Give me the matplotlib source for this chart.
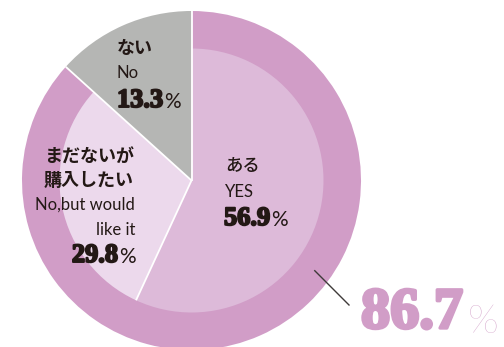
import numpy as np
import matplotlib
matplotlib.use('agg')
import matplotlib.pyplot as plt
import matplotlib.patheffects as pe

# answers, inner pie (percent)
labels_ja = ['ない', 'まだないが\n購入したい', 'ある']
labels_en = ['No', 'No,but would\nlike it', 'YES']
values = [13.3, 29.8, 56.9]
owned_total = 86.7   # outer ring: YES + want to buy

gray = '#b5b6b4'
ring = '#d19dc7'
inner_cols = [gray, '#ecd9ec', '#ddbad9']
ink = '#231815'

W, H = 504, 347
fig = plt.figure(figsize=(W / 100, H / 100), dpi=100)
ax = fig.add_axes([0, 0, 1, 1])

cx, cy = 191.5, H - 180.5
R, r = 169.5, 132

# outer: gray wedge full radius + pink ring
ax.pie([100 - owned_total, owned_total], colors=[gray, ring], radius=R,
       center=(cx, cy), startangle=90, frame=True,
       wedgeprops=dict(linewidth=0))
ax.pie(values, colors=[(0, 0, 0, 0)] + inner_cols[1:], radius=r,
       center=(cx, cy), startangle=90, frame=True,
       wedgeprops=dict(linewidth=0))
ax.set_xlim(0, W)
ax.set_ylim(0, H)
ax.set_aspect('equal')
ax.axis('off')

# white separators
bounds = 90 + 360 * np.cumsum([0] + values[:-1]) / 100
for i, a in enumerate(bounds):
    rad = np.deg2rad(a)
    rr = r if i == 2 else R
    ax.plot([cx, cx + rr * np.cos(rad)], [cy, cy + rr * np.sin(rad)],
            color='white', lw=1.3, solid_capstyle='butt')

jp = 'Noto Sans CJK JP'
en = 'Lato'
num = 'Liberation Serif'
fat = [pe.withStroke(linewidth=1.4, foreground=ink)]


def pct(x, y, val, ha='left', size=19, psize=15, color=ink, stroke=fat,
        pweight='normal', gap=1.0):
    if ha == 'left':
        t = ax.text(x, H - y, f'{val:.1f}', family=num, weight='bold',
                    size=size, color=color, ha='left', va='baseline',
                    path_effects=stroke)
        ax.annotate('%', xy=(1, 0), xycoords=t, xytext=(gap, 0),
                    textcoords='offset points', family=en, weight=pweight,
                    size=psize, color=color, ha='left', va='bottom')
    else:
        p = ax.text(x, H - y, '%', family=en, weight=pweight, size=psize,
                    color=color, ha='right', va='baseline')
        ax.annotate(f'{val:.1f}', xy=(0, 0), xycoords=p, xytext=(-gap, 0),
                    textcoords='offset points', family=num, weight='bold',
                    size=size, color=color, ha='right', va='bottom',
                    path_effects=stroke)


# ない / No
ax.text(117, H - 48, labels_ja[0], family=jp, weight='bold', size=13,
        color=ink, ha='left', va='center')
ax.text(117, H - 78, labels_en[0], family=en, size=12, color=ink,
        ha='left', va='baseline')
pct(117, 107, values[0])

# まだないが購入したい
ja1, ja2 = labels_ja[1].split('\n')
ax.text(134, H - 157, ja1, family=jp, weight='bold', size=13, color=ink,
        ha='right', va='center')
ax.text(134, H - 180, ja2, family=jp, weight='bold', size=13, color=ink,
        ha='right', va='center')
en1, en2 = labels_en[1].split('\n')
ax.text(135, H - 210, en1, family=en, size=12, color=ink, ha='right',
        va='baseline')
ax.text(135, H - 235, en2, family=en, size=12, color=ink, ha='right',
        va='baseline')
pct(136, 263, values[1], ha='right')

# ある / YES
ax.text(225, H - 166, labels_ja[2], family=jp, weight='medium', size=12.5,
        color=ink, ha='left', va='center')
ax.text(225, H - 197, labels_en[2], family=en, size=12, color=ink,
        ha='left', va='baseline')
pct(224, 225, values[2])

# 86.7% callout
ang = np.deg2rad(-36.2)
mid = (R + r) / 2 + 2
ax.plot([cx + mid * np.cos(ang), 349], [cy + mid * np.sin(ang), H - 305],
        color='#3e3a39', lw=1)
pct(361, 328, owned_total, size=42, psize=29, color=ring,
    stroke=[pe.withStroke(linewidth=2.4, foreground=ring)], pweight='light',
    gap=3)

fig.savefig('out.png', dpi=100)
